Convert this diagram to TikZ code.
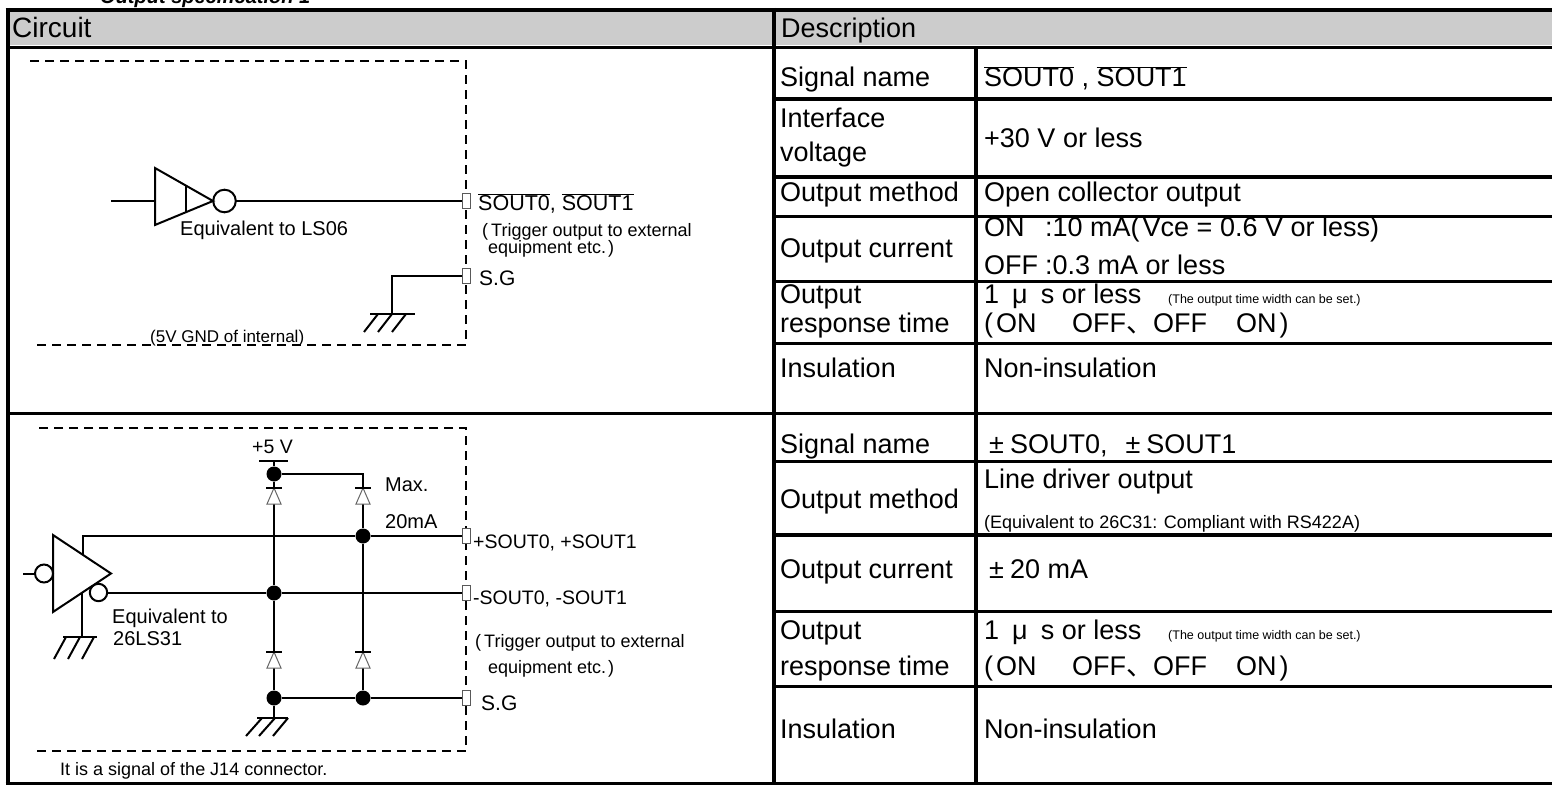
\documentclass[tikz,border=0pt]{standalone}
\usepackage{fontspec}
\setmainfont{Liberation Sans}
\newfontfamily\cjkfont{Noto Sans CJK JP}
\newcommand{\ovl}[1]{\ensuremath{\overline{\mbox{#1}}}}
\definecolor{hdrgray}{HTML}{CCCCCC}
\tikzset{
  tbl/.style={line width=3.5pt},
  dashbox/.style={line width=2pt, dash pattern=on 9pt off 6pt},
  wire/.style={line width=2pt},
  jdot/.style={circle, fill=black, inner sep=0pt, minimum size=15pt},
  conn/.style={rectangle, draw=black!65, fill=white, line width=1pt, inner sep=0pt, minimum width=8pt, minimum height=15pt},
  dlbl/.style={anchor=base west, inner sep=0pt, font=\fontsize{27}{32}\selectfont},
  dsmall/.style={anchor=base west, inner sep=0pt, font=\fontsize{12.5}{15}\selectfont},
  dmid/.style={anchor=base west, inner sep=0pt, font=\fontsize{18}{22}\selectfont},
  ctext/.style={anchor=base west, inner sep=0pt, font=\fontsize{20}{24}\selectfont},
  csmall/.style={anchor=base west, inner sep=0pt, font=\fontsize{18}{21}\selectfont},
  diodetri/.style={draw=black!60, fill=white, line width=1pt},
  diodebar/.style={line width=1.5pt},
}
\begin{document}
\begin{tikzpicture}[x=1pt,y=-1pt]
\useasboundingbox (0,0) rectangle (1552,786);
% title (cut at top)
\node[anchor=base west, inner sep=0pt, font=\bfseries\itshape\fontsize{20}{24}\selectfont] (title) at (100,4) {Output specification 1};
% header
\fill[hdrgray] (9.5,12) rectangle (1552,45.5);
\node[anchor=base west, inner sep=0pt, font=\fontsize{28}{32}\selectfont] (hcirc) at (12,38) {Circuit};
\node[dlbl] (hdesc) at (781,38) {Description};
% table lines
\draw[line width=4pt] (5.5,10) -- (1552,10);
\draw[line width=4pt] (7.5,8) -- (7.5,785);
\draw[tbl] (7.5,47.5) -- (1552,47.5);
\draw[line width=4pt] (774,8) -- (774,785);
\draw[tbl] (976,47.5) -- (976,785);
\foreach \yy in {99,177,216.5,281.5,343.5,461.5,535,611.5,686.5}
  \draw[tbl] (774,\yy) -- (1552,\yy);
\draw[tbl] (7.5,413.5) -- (1552,413.5);
\draw[tbl] (5.5,783.5) -- (1552,783.5);

% ---------- description, section 1
\node[dlbl] (l1) at (780,87) {Signal name};
\node[dlbl] (v1) at (984,87) {\ovl{SOUT0} , \ovl{SOUT1}};
\node[dlbl] (l2a) at (780,128) {Interface};
\node[dlbl] (l2b) at (780,162) {voltage};
\node[dlbl] (v2) at (984,148) {+30 V or less};
\node[dlbl] (l3) at (780,202) {Output method};
\node[dlbl] (v3) at (984,202) {Open collector output};
\node[dlbl] (l4) at (780,258) {Output current};
\node[dlbl] (v4a) at (984,237) {ON};
\node[dlbl] (v4b) at (1045,237) {:10 mA(\kern3pt Vce = 0.6 V or less)};
\node[dlbl] (v4c) at (984,275) {OFF};
\node[dlbl] (v4d) at (1045,275) {:0.3 mA or less};
\node[dlbl] (l5a) at (780,303) {Output};
\node[dlbl] (l5b) at (780,332) {response time};
\node[dlbl] (v5a) at (984,303) {1\kern13pt μ\kern13pt s or less};
\node[dsmall] (v5d) at (1168,303) {(The output time width can be set.)};
\node[dlbl] (v5e) at (984,332) {(\kern3pt ON};
\node[dlbl] (v5f) at (1072,332) {OFF{\cjkfont 、}OFF};
\node[dlbl] (v5h) at (1236,332) {ON\kern3pt)};
\node[dlbl] (l6) at (780,377) {Insulation};
\node[dlbl] (v6) at (984,377) {Non-insulation};

% ---------- description, section 2
\node[dlbl] (m1) at (780,453) {Signal name};
\node[dlbl] (w1) at (989,453) {±\kern6pt SOUT0,\kern18pt ±\kern6pt SOUT1};
\node[dlbl] (m2) at (780,508) {Output method};
\node[dlbl] (w2a) at (984,488) {Line driver output};
\node[dmid] (w2b) at (984,528) {(Equivalent to 26C31: Compliant with RS422A)};
\node[dlbl] (m3) at (780,578) {Output current};
\node[dlbl] (w3) at (989,578) {±\kern6pt 20 mA};
\node[dlbl] (m4a) at (780,639) {Output};
\node[dlbl] (m4b) at (780,675) {response time};
\node[dlbl] (w4a) at (984,639) {1\kern13pt μ\kern13pt s or less};
\node[dsmall] (w4d) at (1168,639) {(The output time width can be set.)};
\node[dlbl] (w4e) at (984,675) {(\kern3pt ON};
\node[dlbl] (w4f) at (1072,675) {OFF{\cjkfont 、}OFF};
\node[dlbl] (w4h) at (1236,675) {ON\kern3pt)};
\node[dlbl] (m5) at (780,738) {Insulation};
\node[dlbl] (w5) at (984,738) {Non-insulation};

% ---------- circuit 1
\draw[dashbox] (37,345) -- (466,345) -- (466,61) -- (30,61);
\coordinate (in1) at (111,201);
\draw[wire, line join=miter] (155,168) -- (155,225) -- (213,201) -- cycle;
\draw[wire] (186,185.6) -- (186,212.2);
\draw[wire] (224.5,201) circle (11.3);
\draw[wire] (in1) -- (155,201);
\node[conn] (c1) at (466,201) {};
\node[conn] (c1g) at (466,276) {};
\draw[wire] (235.8,201) -- (c1.west);
\coordinate (g1) at (392,314);
\draw[wire] (c1g.west) -- (392,276) -- (g1);
\draw[wire] (370,314) -- (415,314);
\draw[wire] (378,314) -- (364,332) (392,314) -- (378,332) (406,314) -- (392,332);
\node[ctext] (t1) at (180,236) {Equivalent to LS06};
\node[anchor=base west, inner sep=0pt, font=\fontsize{21.5}{25}\selectfont] (t2) at (478,211) {\ovl{SOUT0}, \ovl{SOUT1}};
\node[csmall] (t3) at (482,237) {(\kern3pt Trigger output to external};
\node[csmall] (t4) at (488,254) {equipment etc.\kern2pt)};
\node[anchor=base west, inner sep=0pt, font=\fontsize{21}{25}\selectfont] (t5) at (479,286) {S.G};
\node[anchor=base west, inner sep=0pt, font=\fontsize{17}{20}\selectfont] (t6) at (150,342) {(5V GND of internal)};

% ---------- circuit 2
\draw[dashbox] (37,751) -- (466,751) -- (466,428) -- (37,428);
% driver
\draw[wire, line join=miter] (53,535) -- (53,612) -- (111,573.5) -- cycle;
\draw[wire] (44,573.5) circle (9);
\coordinate (in2) at (23,573.5);
\draw[wire] (in2) -- (35,573.5);
\draw[wire] (98.5,592.5) circle (8.7);
% junctions and connectors
\node[jdot] (dA) at (274,474) {};
\node[jdot] (dB) at (363,536) {};
\node[jdot] (dC) at (274,593) {};
\node[jdot] (dD) at (274,698) {};
\node[jdot] (dE) at (363,698) {};
\node[conn] (c2) at (466,536) {};
\node[conn] (c3) at (466,593) {};
\node[conn] (c4) at (466,698) {};
% supply
\draw[wire] (259,461) -- (288,461);
\draw[wire] (274,461) -- (dA);
\draw[wire] (dA) -- (363,474) -- (363,488);
% outputs
\draw[wire] (83,555) -- (83,536) -- (dB) -- (c2.west);
\draw[wire] (107.2,593) -- (dC) -- (c3.west);
\draw[wire] (dD) -- (dE) -- (c4.west);
% rails
\draw[wire] (dA) -- (274,488);
\draw[wire] (274,504) -- (dC);
\draw[wire] (dC) -- (274,652);
\draw[wire] (274,668) -- (dD);
\draw[wire] (363,504) -- (dB);
\draw[wire] (dB) -- (363,652);
\draw[wire] (363,668) -- (dE);
% diodes
\foreach \dx/\dy in {274/488, 363/488, 274/652, 363/652}{
  \draw[diodetri] (\dx,\dy) -- (\dx-7,\dy+16) -- (\dx+7,\dy+16) -- cycle;
  \draw[diodebar] (\dx-8,\dy) -- (\dx+8,\dy);
}
% driver ground
\draw[wire] (82,592.8) -- (82,637);
\draw[wire] (63,637) -- (97,637);
\draw[wire] (66,637) -- (54,659) (80,637) -- (68,659) (94,637) -- (82,659);
% rail ground
\draw[wire] (dD) -- (274,718);
\draw[wire] (257,718) -- (288,718);
\draw[wire] (262,718) -- (246,736) (275,718) -- (259,736) (288,718) -- (273,736);
% labels
\node[anchor=base west, inner sep=0pt, font=\fontsize{19.5}{23}\selectfont] (u1) at (252,453) {+5 V};
\node[ctext] (u2) at (385,491) {Max.};
\node[ctext] (u3) at (385,528) {20mA};
\node[anchor=base west, inner sep=0pt, font=\fontsize{19.5}{23}\selectfont] (u4) at (473,548) {+SOUT0, +SOUT1};
\node[anchor=base west, inner sep=0pt, font=\fontsize{19.5}{23}\selectfont] (u5) at (473,604) {-SOUT0, -SOUT1};
\node[csmall] (u6) at (475,647) {(\kern3pt Trigger output to external};
\node[csmall] (u7) at (488,673) {equipment etc.\kern2pt)};
\node[anchor=base west, inner sep=0pt, font=\fontsize{21}{25}\selectfont] (u8) at (481,710) {S.G};
\node[ctext] (u9) at (112,623) {Equivalent to};
\node[ctext] (u10) at (113,645) {26LS31};
\node[csmall] (u11) at (60,775) {It is a signal of the J14 connector.};
\end{tikzpicture}
\end{document}
